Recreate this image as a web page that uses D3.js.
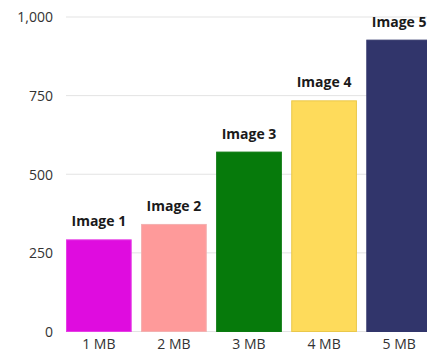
<!DOCTYPE html>
<html><head><meta charset="utf-8">
<script src="https://cdn.jsdelivr.net/npm/d3@7"></script>
<style>
html,body{margin:0;padding:0;background:#fff;overflow:hidden;}
svg{display:block;}
</style></head>
<body>
<svg id="chart" width="427" height="356"></svg>
<script>
const categories = ["1 MB", "2 MB", "3 MB", "4 MB", "5 MB"];
const labels = ["Image 1", "Image 2", "Image 3", "Image 4", "Image 5"];
const values = [293, 342, 572, 735, 928];
const colors = ["#df0cdf", "#fe9a9a", "#067a0b", "#fedb5b", "#31356b"];
const strokes = ["#e53ee5", "#f3b0b0", "#0b7a10", "#eac84a", "#31356b"];
const yTicks = [0, 250, 500, 750, 1000];

const svg = d3.select("#chart");
const font = "'Open Sans', sans-serif";

const x = d3.scaleBand().domain(categories).range([66, 432]).paddingInner(0.125).paddingOuter(0);
const y = d3.scaleLinear().domain([0, 1000]).range([331.5, 17]);

// gridlines
svg.append("g").selectAll("line").data(yTicks).join("line")
  .attr("x1", 66).attr("x2", 427)
  .attr("y1", d => y(d)).attr("y2", d => y(d))
  .attr("stroke", "#e3e3e3").attr("stroke-width", 1);

// y axis labels
const yAxis = d3.axisLeft(y).tickValues(yTicks).tickFormat(d3.format(",")).tickSize(0).tickPadding(0);
const yg = svg.append("g").attr("transform", "translate(53,0)").call(yAxis);
yg.select(".domain").remove();
yg.selectAll("text").attr("font-family", font).attr("font-size", 14).attr("fill", "#333").attr("dy", "0.35em");

// x axis labels
const xAxis = d3.axisBottom(x).tickSize(0).tickPadding(0);
const xg = svg.append("g").attr("transform", "translate(0,339)").call(xAxis);
xg.select(".domain").remove();
xg.selectAll("text").attr("font-family", font).attr("font-size", 14).attr("fill", "#333").attr("dy", "0.71em");

// bars
svg.append("g").selectAll("rect").data(values).join("rect")
  .attr("x", (d, i) => x(categories[i]) + 0.5)
  .attr("y", d => y(d) + 0.5)
  .attr("width", x.bandwidth() - 1)
  .attr("height", d => y(0) - y(d) - 0.5)
  .attr("fill", (d, i) => colors[i])
  .attr("stroke", (d, i) => strokes[i])
  .attr("stroke-width", 1);

// bar labels
svg.append("g").selectAll("text").data(values).join("text")
  .attr("x", (d, i) => x(categories[i]) + x.bandwidth() / 2)
  .attr("y", d => y(d) - 13)
  .attr("text-anchor", "middle")
  .attr("font-family", font).attr("font-size", 14).attr("font-weight", "bold")
  .attr("fill", "#1a1a1a")
  .text((d, i) => labels[i]);
</script>
</body></html>
